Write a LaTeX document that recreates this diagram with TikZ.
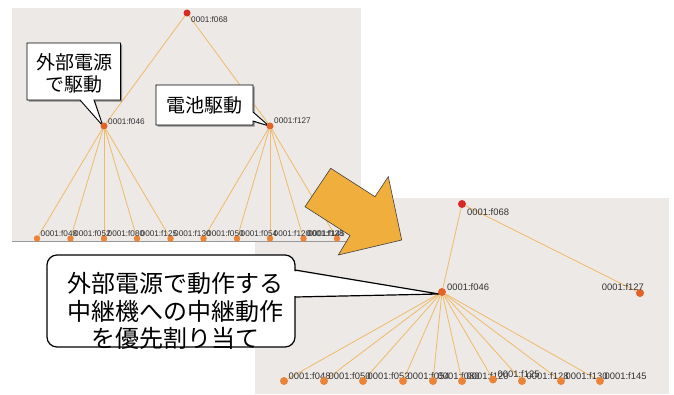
\documentclass[tikz,border=0pt]{standalone}
\usepackage{fontspec}
\setmainfont{Liberation Sans}
\newfontfamily\jpfont{Noto Sans CJK JP}
\definecolor{panelbg}{RGB}{236,233,231}
\definecolor{edgec}{RGB}{239,186,105}
\definecolor{rootc}{RGB}{214,42,36}
\definecolor{midc}{RGB}{226,98,40}
\definecolor{leafc}{RGB}{234,132,56}
\definecolor{arrowc}{RGB}{240,174,60}
\pgfdeclarelayer{back}
\pgfdeclarelayer{edges}
\pgfdeclarelayer{callouts}
\pgfsetlayers{back,edges,callouts,main}
\begin{document}
\begin{tikzpicture}[x=1pt,y=-1pt,
  tedge/.style={draw=edgec, line width=0.8pt},
  dotS/.style={circle, inner sep=0pt, minimum size=7pt},
  dotL/.style={circle, inner sep=0pt, minimum size=8pt},
  lblS/.style={font=\fontsize{8.2}{8.2}\selectfont, text=black!80, inner sep=0pt, anchor=west},
  lblL/.style={font=\fontsize{9.4}{9.4}\selectfont, text=black!80, inner sep=0pt, anchor=west},
  jpS/.style={font=\jpfont\fontsize{19}{22}\selectfont, align=center, inner sep=0pt},
  jpL/.style={font=\jpfont\fontsize{24}{27.5}\selectfont, align=center, inner sep=0pt},
  callout/.style={fill=white, draw=black, line width=0.9pt, line join=miter},
  shadowS/.style={fill=black!45},
]
\useasboundingbox (0,0) rectangle (674,394);

% backgrounds
\begin{pgfonlayer}{back}
\fill[white] (0,0) rectangle (674,394);
\fill[panelbg] (255,198) rectangle (669,394);
\fill[panelbg] (12,8) rectangle (361,241);
\end{pgfonlayer}

% ---------- top panel tree ----------
\node[dotS, fill=rootc] (tA) at (187,13) {};
\node[lblS] at (191,20) {0001:f068};
\node[dotS, fill=midc] (tB) at (104,126) {};
\node[lblS] at (108,122) {0001:f046};
\node[dotS, fill=midc] (tC) at (270,126) {};
\node[lblS] at (274,121) {0001:f127};
\foreach \x/\n [count=\i] in {37/048,70.5/052,104/080,137/125,170.5/130,203.5/050,237/054,270/120,303.5/128,337/145}{
  \node[dotS, minimum size=6.5pt, fill=leafc] (tL\i) at (\x,238.5) {};
}
\foreach \x/\n in {37/048,70.5/052,104/080,137/125,170.5/130,203.5/050,237/054,270/120,303.5/128}{
  \node[lblS] at (\x+3.5,233.5) {0001:f\n};
}
\node[lblS, anchor=east] at (345,233.5) {0001:f145};

% ---------- bottom panel tree ----------
\node[dotL, fill=rootc] (bA) at (462,204) {};
\node[lblL] at (467,212) {0001:f068};
\node[dotL, fill=midc] (bB) at (442,292) {};
\node[lblL] at (447,287) {0001:f046};
\node[dotL, fill=midc] (bC) at (640,293) {};
\node[lblL, anchor=east] at (644,287) {0001:f127};
\foreach \x/\y/\n [count=\i] in {284/381/048,324/381/050,363/381/052,403/381/054,433/381/080,462/381/120,493/379.5/125,522/381/128,561/381/130,600/381/145}{
  \node[dotL, fill=leafc] (bL\i) at (\x,\y) {};
  \node[lblL] at (\x+4.5,\y-5) {0001:f\n};
}

% ---------- connectors ----------
\begin{pgfonlayer}{edges}
\draw[black!40, line width=1pt] (12,241) -- (361,241);
\draw[tedge] (tA) -- (tB);
\draw[tedge] (tA) -- (tC);
\foreach \i in {1,...,5}{\draw[tedge] (tB) -- (tL\i);}
\foreach \i in {6,...,10}{\draw[tedge] (tC) -- (tL\i);}
\draw[tedge] (bA) -- (bB);
\draw[tedge] (bA) -- (bC);
\foreach \i in {1,...,10}{\draw[tedge] (bB) -- (bL\i);}
\end{pgfonlayer}

% ---------- callouts ----------
\begin{pgfonlayer}{callouts}
\coordinate (tipA) at ([xshift=-1pt]tB.center);
\coordinate (tipB) at ([xshift=-1pt]tC.center);
\coordinate (tipC) at ([xshift=-3pt,yshift=-2pt]bB.center);
\fill[shadowS] (28.5,44.5) -- (122,44.5) -- (122,101.5) -- (95.5,101.5) -- (tipA) -- (81.5,101.5) -- (28.5,101.5) -- cycle;
\draw[callout] (27,43) -- (120.5,43) -- (120.5,100) -- (94,100) -- (tipA) -- (80,100) -- (27,100) -- cycle;
\node[jpS] (c1) at (74,73) {外部電源\\で駆動};

\fill[shadowS] (157.5,86.5) -- (254.5,86.5) -- (254.5,113.5) -- (tipB) -- (254.5,122.5) -- (254.5,126.5) -- (157.5,126.5) -- cycle;
\draw[callout] (156,85) -- (253,85) -- (253,112) -- (tipB) -- (253,121) -- (253,125) -- (156,125) -- cycle;
\node[jpS] (c2) at (204.5,105.5) {電池駆動};

\draw[callout, line width=1.2pt, rounded corners=10pt] (47,255) rectangle (295,347);
\fill[white] (293.2,271) -- (tipC) -- (293.2,296) -- cycle;
\draw[black, line width=1.2pt, line join=miter] (295,270) -- (tipC) -- (295,297);
\node[jpL] (c3) at (175,311) {外部電源で動作する\\中継機への中継動作\\を優先割り当て};
\end{pgfonlayer}

% ---------- big arrow ----------
\filldraw[fill=arrowc, draw=black!75, line width=0.6pt, line join=miter]
  (330.7,168.3) -- (375,196.7) -- (388.3,176.7) -- (401.7,240) -- (338.3,255) -- (350,235.5) -- (305,206.7) -- cycle;
\end{tikzpicture}
\end{document}
